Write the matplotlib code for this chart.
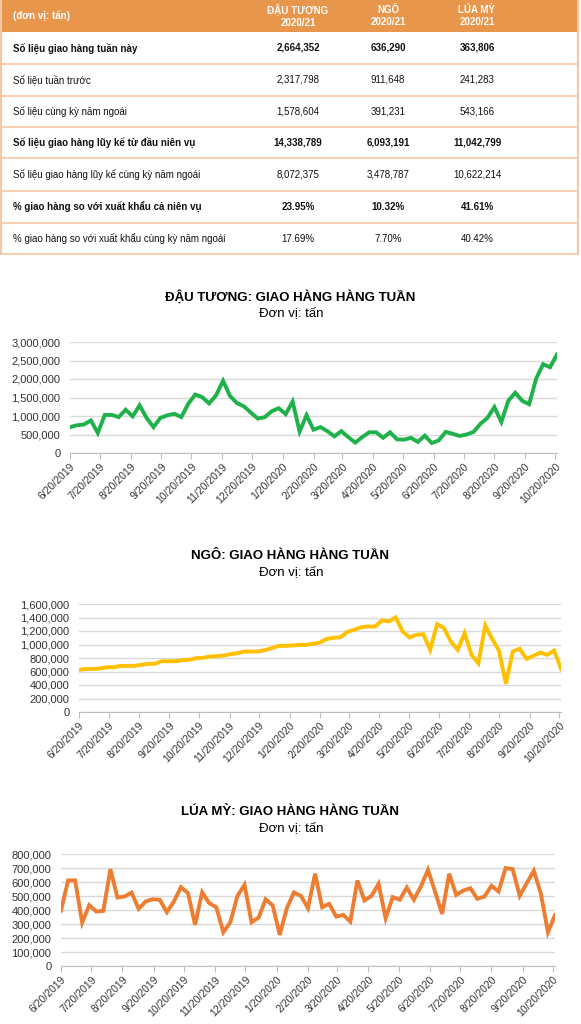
import datetime as dt
import matplotlib
matplotlib.use('Agg')
import matplotlib.pyplot as plt
import matplotlib.dates as mdates
from matplotlib.ticker import FuncFormatter, MultipleLocator
from matplotlib.patches import Rectangle

plt.rcParams['font.family'] = ['Liberation Sans', 'DejaVu Sans']

# table data
col_headers = ["ĐẬU TƯƠNG\n2020/21", "NGÔ\n2020/21", "LÚA MỲ\n2020/21"]
row_labels = ["Số liệu giao hàng tuần này",
              "Số liệu tuần trước",
              "Số liệu cùng kỳ năm ngoái",
              "Số liệu giao hàng lũy kế từ đầu niên vụ",
              "Số liệu giao hàng lũy kế cùng kỳ năm ngoái",
              "% giao hàng so với xuất khẩu cả niên vụ",
              "% giao hàng so với xuất khẩu cùng kỳ năm ngoái"]
row_bold = [True, False, False, True, False, True, False]
soy_col = ["2,664,352", "2,317,798", "1,578,604", "14,338,789", "8,072,375", "23.95%", "17.69%"]
corn_col = ["636,290", "911,648", "391,231", "6,093,191", "3,478,787", "10.32%", "7.70%"]
wheat_col = ["363,806", "241,283", "543,166", "11,042,799", "10,622,214", "41.61%", "40.42%"]

# weekly series (tonnes), week of 6/20/2019 to 10/22/2020
soy = [700000, 750000, 770000, 880000, 540000, 1030000, 1030000, 970000, 1170000, 990000,
       1290000, 950000, 700000, 950000, 1020000, 1060000, 970000, 1330000, 1580000, 1510000,
       1340000, 1560000, 1950000, 1540000, 1350000, 1260000, 1090000, 930000, 970000, 1130000,
       1210000, 1050000, 1390000, 580000, 1020000, 630000, 700000, 590000, 450000, 590000,
       430000, 280000, 430000, 560000, 560000, 410000, 560000, 370000, 360000, 410000,
       300000, 470000, 270000, 340000, 570000, 520000, 460000, 500000, 570000, 790000,
       950000, 1240000, 840000, 1410000, 1630000, 1410000, 1320000, 2010000, 2400000, 2317798,
       2664352]
corn = [624000, 638000, 638000, 644000, 663000, 663000, 683000, 683000, 683000, 698000,
        713000, 713000, 752000, 752000, 752000, 767000, 772000, 797000, 802000, 822000,
        827000, 837000, 856000, 871000, 896000, 896000, 896000, 916000, 946000, 980000,
        980000, 985000, 995000, 995000, 1010000, 1030000, 1084000, 1099000, 1109000, 1188000,
        1218000, 1257000, 1267000, 1267000, 1356000, 1341000, 1401000, 1193000, 1104000, 1144000,
        1153000, 921000, 1302000, 1243000, 1045000, 921000, 1168000, 847000, 723000, 1282000,
        1084000, 906000, 416000, 896000, 936000, 787000, 832000, 881000, 847000, 911648,
        636290]
wheat = [396000, 611000, 611000, 310000, 434000, 389000, 394000, 692000, 489000, 496000,
         525000, 408000, 461000, 477000, 473000, 384000, 461000, 563000, 520000, 294000,
         527000, 449000, 420000, 241000, 313000, 501000, 580000, 313000, 346000, 477000,
         432000, 222000, 413000, 525000, 501000, 413000, 659000, 420000, 444000, 353000,
         365000, 317000, 611000, 468000, 501000, 587000, 341000, 492000, 473000, 561000,
         473000, 568000, 687000, 532000, 372000, 659000, 508000, 539000, 556000, 480000,
         496000, 573000, 532000, 699000, 692000, 501000, 592000, 680000, 516000, 241283,
         363806]

weeks = [dt.date(2019, 6, 20) + dt.timedelta(weeks=i) for i in range(len(soy))]
month_ticks = [dt.date(2019 + (5 + m) // 12, (5 + m) % 12 + 1, 20) for m in range(17)]

W, H = 581, 1024
fig = plt.figure(figsize=(W / 100, H / 100), dpi=100)
fig.patch.set_facecolor('white')

# ---------- table ----------
tab = fig.add_axes([0, 1 - 256 / H, 1, 256 / H])
tab.set_xlim(0, W)
tab.set_ylim(256, 0)
tab.axis('off')
header_col = '#E8964C'
line_col = '#F5C7A2'
tab.add_patch(Rectangle((1, 0), 577, 32, facecolor=header_col, edgecolor='none'))
tab.text(13, 16, "(đơn vị: tấn)", color='white', fontsize=7, fontweight='bold', va='center')
col_x = [298, 388, 477]
for cx, h in zip(col_x, col_headers):
    tab.text(cx, 16, h, color='white', fontsize=7, fontweight='bold', ha='center', va='center',
             linespacing=1.35)
row_top = [32, 64, 96, 127, 158, 191, 223, 254]
for i, lab in enumerate(row_labels):
    yc = (row_top[i] + row_top[i + 1]) / 2
    fw = 'bold' if row_bold[i] else 'normal'
    tab.text(13, yc, lab, fontsize=7, fontweight=fw, va='center', color='#111111')
    for cx, col in zip(col_x, [soy_col, corn_col, wheat_col]):
        tab.text(cx, yc, col[i], fontsize=7, fontweight=fw, ha='center', va='center', color='#111111')
    tab.plot([1, 578], [row_top[i + 1], row_top[i + 1]], color=line_col, lw=1.2)
tab.plot([1, 1], [0, 254], color=line_col, lw=1.5)
tab.plot([578, 578], [0, 254], color=line_col, lw=1.5)


def draw_chart(rect, values, color, ymax, ystep, title, title_y):
    ax = fig.add_axes(rect)
    ax.plot(weeks, values, color=color, lw=2.8, solid_joinstyle='miter')
    ax.set_xlim(weeks[0], weeks[-1])
    ax.set_ylim(0, ymax)
    ax.yaxis.set_major_locator(MultipleLocator(ystep))
    ax.yaxis.set_major_formatter(FuncFormatter(lambda v, p: f"{int(v):,}"))
    ax.set_xticks(month_ticks)
    ax.xaxis.set_major_formatter(FuncFormatter(
        lambda v, p: (lambda d: f"{d.month}/{d.day}/{d.year}")(mdates.num2date(v))))
    for lbl in ax.get_xticklabels():
        lbl.set_rotation(45)
        lbl.set_ha('right')
        lbl.set_rotation_mode('anchor')
    ax.tick_params(axis='x', labelsize=7.5, length=4, color='#BFBFBF', colors='#333333', pad=2)
    ax.tick_params(axis='y', labelsize=8, length=0, colors='#333333', pad=7)
    ax.grid(axis='y', color='#D9D9D9', lw=1)
    ax.set_axisbelow(True)
    for s in ['top', 'right', 'left']:
        ax.spines[s].set_visible(False)
    ax.spines['bottom'].set_color('#BFBFBF')
    fig.text(290 / W, 1 - title_y / H, title, ha='center', va='center', fontsize=9.5, fontweight='bold')
    fig.text(291 / W, 1 - (title_y + 16) / H, "Đơn vị: tấn", ha='center', va='center', fontsize=9.5)
    return ax


draw_chart([70 / W, 1 - 453 / H, 487 / W, 111 / H], soy, '#1FB14A', 3000000, 500000,
           "ĐẬU TƯƠNG: GIAO HÀNG HÀNG TUẦN", 297)
draw_chart([79 / W, 1 - 712 / H, 482 / W, 108 / H], corn, '#FFC000', 1600000, 200000,
           "NGÔ: GIAO HÀNG HÀNG TUẦN", 556)
draw_chart([61 / W, 1 - 966 / H, 494 / W, 112 / H], wheat, '#ED7D31', 800000, 100000,
           "LÚA MỲ: GIAO HÀNG HÀNG TUẦN", 812)

fig.savefig('out.png', dpi=100)
